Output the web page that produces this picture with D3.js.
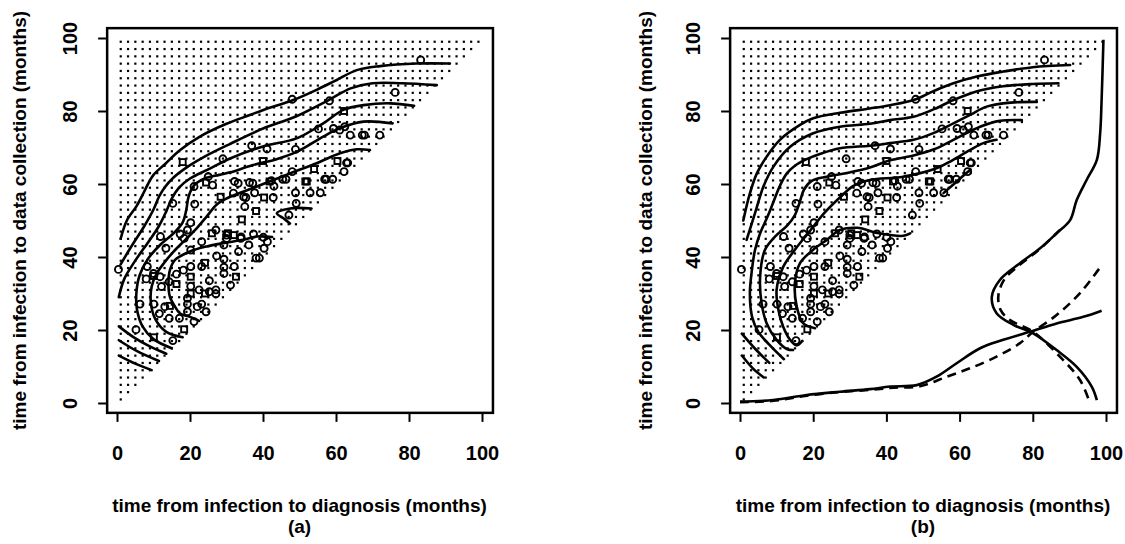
<!DOCTYPE html>
<html>
<head>
<meta charset="utf-8">
<script src="https://cdn.jsdelivr.net/npm/d3@7"></script>
<style>
  body { margin: 0; background: #fff; }
  svg text { font-family: "Liberation Sans", Arial, sans-serif; font-weight: bold; fill: #000; }
</style>
</head>
<body>
<svg id="chart" width="1125" height="544"></svg>
<script>
// ---- data (months) ----
const X_TICKS = [0, 20, 40, 60, 80, 100];
const Y_TICKS = [0, 20, 40, 60, 80, 100];
const GRID_STEP = 2;

// observed cases: [time to diagnosis, time to data collection]
const circlePoints = [
  [83.2, 94], [76.2, 85.1], [48, 83.2], [58.2, 82.8], [55.2, 75.1], [59.3, 75.2], [62.4, 75.7], [61, 74.8],
  [63.9, 73.4], [67.2, 73.4], [67.8, 73.4], [72, 73.4], [36.9, 70.5], [41.1, 69.6], [48.9, 69.5], [29, 66.9],
  [63.2, 65.8], [62.2, 63.4], [48, 63.4], [25, 62], [62.9, 65.8], [57.3, 61.3], [59.1, 61.3], [46.3, 61.3],
  [45.4, 61.3], [42.3, 60.9], [37.2, 60.2], [33.2, 60.2], [36.3, 60.4], [32.2, 60.7], [26.2, 59.7], [21.1, 59.3],
  [43, 59.4], [56.9, 61.3], [31.9, 57.5], [34.7, 56.5], [37.7, 57.6], [42.8, 56.3], [48.9, 57.6], [52.9, 57.6],
  [55.7, 57.6], [35.3, 56.3], [49.1, 54.7], [47.1, 51.5], [35, 53.8], [15.3, 54.7], [21.3, 54.5], [20.2, 49.4],
  [19.3, 47.4], [17.3, 46.3], [18.4, 45.1], [27.1, 47.4], [30, 45.1], [33.9, 45.1], [37.4, 46.3], [40.1, 45.4],
  [41.2, 44.2], [40.3, 42.4], [38.1, 39.7], [39, 39.7], [36.1, 43.3], [33.3, 41.5], [29.3, 43.3], [23.2, 44.2],
  [20.2, 41.9], [13.4, 42.4], [27.3, 40.3], [29.3, 39.4], [29.3, 37.2], [29.3, 35.5], [32.1, 37.4], [23.2, 37.4],
  [20.2, 37.4], [18.2, 36.4], [16.3, 35.3], [14.3, 33.2], [11.8, 34.6], [12.2, 31.9], [8.3, 37.4], [25.3, 33.5],
  [27.1, 31], [27.1, 29.9], [31.1, 32.3], [19.3, 28.7], [19.3, 27.1], [19.3, 25], [22, 26.4], [23.2, 27.1],
  [24.4, 25], [21.1, 22.3], [17.1, 23.2], [14.3, 23.2], [13.1, 26.4], [11.6, 24.5], [10.1, 27.1], [6.3, 27.1],
  [5.2, 20.1], [15.3, 17.1], [0.4, 36.6], [20.2, 32], [30, 46], [34, 45.5], [11.9, 45.6], [22.5, 31],
  [25.3, 30.5], [8, 34], [10, 35.5]
];
const squarePoints = [
  [18, 66], [40, 66.3], [60.4, 66.3], [54, 64.1], [52, 60.7], [24.4, 60.4], [28.4, 56.5], [40.3, 56.3],
  [38.1, 52.6], [34.2, 50.3], [26, 46.5], [30.4, 46.5], [32, 46], [32.6, 34.6], [24.1, 38.4], [20.2, 34.6],
  [10.1, 34.8], [16.3, 32.6], [24.1, 30], [20.2, 30], [14.5, 26.6], [18.4, 20.2], [10.1, 18], [62.2, 80],
  [41.8, 60.7], [51.6, 60.7]
];

// panel (a) density contours
const contoursA = [
  [[1, 45], [2.7, 50], [5.4, 54], [7.2, 57.4], [8.5, 60], [10, 62.5], [13.2, 65.5], [17.3, 69.3], [22.7, 73],
   [30, 76.5], [36.4, 78.9], [40.1, 80.3], [48.3, 83], [54.7, 85.8], [60.2, 88.5], [65.7, 91.2], [72.1, 92.3],
   [82.1, 93], [91.2, 93]],
  [[1, 38], [4, 43], [7.5, 48.5], [10, 53], [11.5, 56.5], [13, 59], [15.5, 61.8], [19, 64.5], [24, 67.5],
   [31, 71], [40, 75.2], [49, 78.5], [58, 83], [64, 86.2], [70, 87.6], [78, 87.6], [87.6, 87.1]],
  [[0.5, 29], [2, 34], [5, 39], [8.5, 44], [11.5, 48.5], [13.5, 52.5], [15, 56], [17, 59], [20, 61.5],
   [25, 64], [31, 67], [40, 70.3], [49.2, 72.5], [56.5, 76.6], [62, 80.3], [67.5, 81.6], [74.8, 82.1], [81.4, 81.4]],
  [[15, 15], [10, 17.5], [7, 21], [5.5, 25.5], [5.3, 30], [6.2, 35], [8.5, 39.5], [12, 43.5], [15.5, 46.5],
   [18, 49.5], [19, 53], [19.6, 56.5], [21, 59.5], [24, 61.5], [28, 62.5], [31, 63.2], [37.3, 65.2],
   [43.7, 66.8], [49.2, 68.8], [56.5, 73], [61.1, 75.3], [67.5, 77.1], [75.5, 76.6]],
  [[18, 18], [13.5, 19.5], [10.5, 23], [9.3, 27.3], [9.5, 31.9], [10.9, 35.5], [13, 38.5], [15.5, 41.5],
   [18.5, 44.5], [21.5, 47.5], [24.5, 51], [27.5, 54.5], [31, 56.5], [38.3, 59.3], [47.4, 62.9], [54.7, 65.7],
   [61.1, 68.4], [65.7, 69.5], [69.3, 69.3]],
  [[22.5, 22.5], [20, 23.6], [17.3, 24.5], [15.9, 26.4], [14.5, 29.1], [14.1, 32.8], [14.5, 36.4], [15.9, 39.2],
   [20, 41.5], [24.6, 42.9], [29.1, 43.8], [34.6, 44.7], [38.3, 45.6], [42.5, 45.5]],
  [[53.3, 53.3], [47.4, 53.3], [43.8, 52], [45.6, 50.6], [47.4, 49.2]],
  [[0.5, 13], [5, 10.8], [9.5, 9]],
  [[0.5, 17.2], [5.5, 14.2], [11.5, 11.5]],
  [[0.5, 21], [4.6, 18], [9, 15.5], [13.5, 13.5]]
];

// panel (b) density contours
const contoursB = [
  [[0.9, 50], [2.7, 57.4], [4.6, 62.9], [7.3, 67.5], [10.9, 72.1], [16.4, 76.2], [20, 78], [27.3, 79.5],
   [35.5, 80.7], [41, 81.6], [47.4, 83], [53, 85.5], [58.3, 87.6], [65, 89.5], [71.9, 90.8], [80, 92], [90.2, 92.6]],
  [[1.8, 44.7], [4.1, 52], [6.4, 59.3], [9.1, 64.7], [13.7, 70.2], [20, 73.9], [27.3, 75.7], [35.5, 76.5],
   [41, 77.5], [47.4, 78.4], [53, 80.5], [58.3, 83], [65, 85.5], [71.9, 86.8], [80, 87.4], [87, 87.6]],
  [[12, 12], [8, 16], [5, 19.5], [3.3, 23.6], [2.7, 30], [3.2, 36], [4.1, 41.9], [5.5, 46.5], [7.5, 51],
   [9.1, 55], [10.9, 59.5], [12.8, 62.9], [15, 65], [18.2, 66.8], [22, 68.3], [27.3, 69.8], [35.5, 70.5],
   [41, 71.2], [47.4, 72.1], [53, 74], [58.3, 76.6], [63, 79], [67.4, 81.2], [74, 82.3], [81.1, 82.5]],
  [[14.5, 14.5], [12.8, 14.8], [10, 17.3], [7.3, 21.8], [5.9, 27.3], [5.5, 34.6], [6.8, 41.9], [9.5, 45.5],
   [12.8, 48.5], [15, 51.5], [16.3, 55], [17.5, 58.5], [19.5, 60.8], [23.7, 62], [29.2, 63], [35.5, 64.5],
   [41, 66.5], [47.4, 67.8], [53, 69.5], [58.3, 72.1], [65.6, 75.7], [71, 77.3], [77, 77.5]],
  [[17, 17], [15.5, 15.8], [13.7, 17.3], [11.8, 20.9], [10.5, 25.5], [10, 31], [11.8, 37.3], [15, 42],
   [19, 47], [23, 52], [27.5, 56.5], [31, 59.5], [35.5, 61.1], [44.6, 62], [53.7, 64.3], [58, 66.5],
   [62.8, 69.3], [66.5, 71.2], [70.1, 72.1]],
  [[20.5, 20.5], [17.3, 21.8], [15.5, 26.4], [15, 32.8], [16.4, 38.3], [20, 42], [23.7, 44.7], [27.3, 47.4],
   [32, 48], [38, 46.5], [44.6, 45.8], [46.5, 46.5]],
  [[55.6, 57.5], [59, 60.5], [63, 64]],
  [[0.5, 13], [3.5, 9.5], [6.5, 7]],
  [[0.5, 19], [4, 15], [8, 11]]
];

// panel (b) marginal curves
const bottomSolid = [
  [0, 0.4], [9.1, 0.8], [18.2, 2.2], [27.3, 3.1], [35.5, 3.8], [41, 4.5], [48.3, 4.9], [53.7, 7.2], [59.2, 10.9],
  [65.6, 15], [71.9, 17.3], [79.2, 19.5], [86.5, 21.8], [93.8, 23.6], [98.8, 25.3]
];
const bottomDashed = [
  [0, 0.2], [9.1, 0.6], [18.2, 2], [27.3, 3], [35.5, 3.6], [42, 4.2], [49.2, 4.6], [56.5, 7.2], [62.8, 9.5],
  [70.1, 12.7], [76.5, 16.4], [80.1, 19.5], [86.5, 24.1], [92.9, 30.1], [98.5, 37.3]
];
const rightSolid = [
  [99.3, 99.5], [98.8, 83], [98.4, 73.9], [97.5, 66.6], [94.7, 61.1], [92, 55.6], [90.2, 50.1], [86.5, 46.5],
  [82, 42.4], [76.5, 38.3], [71, 33.7], [68.8, 29.1], [70.1, 24.6], [74.7, 21.4], [80.1, 19.1], [86.5, 14.5],
  [92, 9.9], [96.1, 4.5], [97.5, 0.8]
];
const rightDashed = [
  [87.5, 47.5], [85.5, 45.5], [81.1, 41.5], [76, 37.5], [72.3, 34], [70.6, 29.5], [71.2, 25.5], [73.8, 22.7],
  [80.1, 19.5], [87.4, 12.7], [92.9, 6.3], [95.6, 0]
];

// ---- layout ----
const svg = d3.select("#chart");
const panels = [
  { id: "a", xRange: [117, 482], yAxisLabelX: 19, contours: contoursA, margins: false },
  { id: "b", xRange: [740, 1106], yAxisLabelX: 645, contours: contoursB, margins: true }
];
const Y_RANGE = [403, 38];
const PAD = 2.7;

const gridValues = d3.range(1, 100, GRID_STEP);
const gridPoints = gridValues.flatMap((gy) => gridValues.filter((gx) => gx <= gy).map((gx) => [gx, gy]));

panels.forEach((p) => {
  const x = d3.scaleLinear().domain([0, 100]).range(p.xRange);
  const y = d3.scaleLinear().domain([0, 100]).range(Y_RANGE);
  const g = svg.append("g").attr("class", `panel-${p.id}`);
  const left = x(-PAD), right = x(100 + PAD + 0.3), top = y(100 + PAD), bottom = y(-PAD);

  // dotted support region
  g.append("g")
    .selectAll("rect")
    .data(gridPoints)
    .join("rect")
    .attr("x", (d) => x(d[0]) - 1)
    .attr("y", (d) => y(d[1]) - 1)
    .attr("width", 2.2)
    .attr("height", 2.2)
    .attr("fill", "#000");

  // points
  g.append("g")
    .selectAll("circle")
    .data(circlePoints)
    .join("circle")
    .attr("cx", (d) => x(d[0]))
    .attr("cy", (d) => y(d[1]))
    .attr("r", 3.5)
    .attr("fill", "none")
    .attr("stroke", "#000")
    .attr("stroke-width", 1.9);

  g.append("g")
    .selectAll("rect")
    .data(squarePoints)
    .join("rect")
    .attr("x", (d) => x(d[0]) - 3)
    .attr("y", (d) => y(d[1]) - 3)
    .attr("width", 6)
    .attr("height", 6)
    .attr("fill", "none")
    .attr("stroke", "#000")
    .attr("stroke-width", 1.9);

  const line = d3.line().x((d) => x(d[0])).y((d) => y(d[1])).curve(d3.curveCatmullRom.alpha(0.5));

  g.append("g")
    .selectAll("path")
    .data(p.contours)
    .join("path")
    .attr("d", line)
    .attr("fill", "none")
    .attr("stroke", "#000")
    .attr("stroke-width", 2.6)
    .attr("stroke-linecap", "round");

  if (p.margins) {
    [[bottomSolid, null], [bottomDashed, "9,6"], [rightSolid, null], [rightDashed, "9,6"]].forEach(([data, dash]) => {
      g.append("path")
        .datum(data)
        .attr("d", line)
        .attr("fill", "none")
        .attr("stroke", "#000")
        .attr("stroke-width", 2.6)
        .attr("stroke-dasharray", dash);
    });
  }

  // box
  g.append("rect")
    .attr("x", left)
    .attr("y", top)
    .attr("width", right - left)
    .attr("height", bottom - top)
    .attr("fill", "none")
    .attr("stroke", "#000")
    .attr("stroke-width", 2.5);

  // axes
  const xAxis = g.append("g")
    .attr("transform", `translate(0,${bottom})`)
    .call(d3.axisBottom(x).tickValues(X_TICKS).tickSize(9).tickFormat(d3.format("d")));
  xAxis.select(".domain").remove();
  xAxis.selectAll("line").attr("stroke-width", 2);
  xAxis.selectAll("text")
    .attr("y", 47)
    .attr("dy", null)
    .attr("font-size", 20)
    .attr("font-family", null);

  const yAxis = g.append("g")
    .attr("transform", `translate(${left},0)`)
    .call(d3.axisLeft(y).tickValues(Y_TICKS).tickSize(9).tickFormat(d3.format("d")));
  yAxis.select(".domain").remove();
  yAxis.selectAll("line").attr("stroke-width", 2);
  yAxis.selectAll("text")
    .attr("x", null)
    .attr("dy", null)
    .attr("transform", "translate(-37,0) rotate(-90)")
    .attr("text-anchor", "middle")
    .attr("dominant-baseline", "central")
    .attr("font-size", 20)
    .attr("font-family", null);

  // axis titles
  const cx = (x(0) + x(100)) / 2;
  g.append("text")
    .attr("x", cx)
    .attr("y", 512)
    .attr("text-anchor", "middle")
    .attr("font-size", 19)
    .text("time from infection to diagnosis (months)");
  g.append("text")
    .attr("x", cx)
    .attr("y", 533)
    .attr("text-anchor", "middle")
    .attr("font-size", 19)
    .text(`(${p.id})`);
  g.append("text")
    .attr("transform", `translate(${p.yAxisLabelX},${(top + bottom) / 2}) rotate(-90)`)
    .attr("text-anchor", "middle")
    .attr("dominant-baseline", "central")
    .attr("font-size", 19)
    .text("time from infection to data collection (months)");
});
</script>
</body>
</html>
